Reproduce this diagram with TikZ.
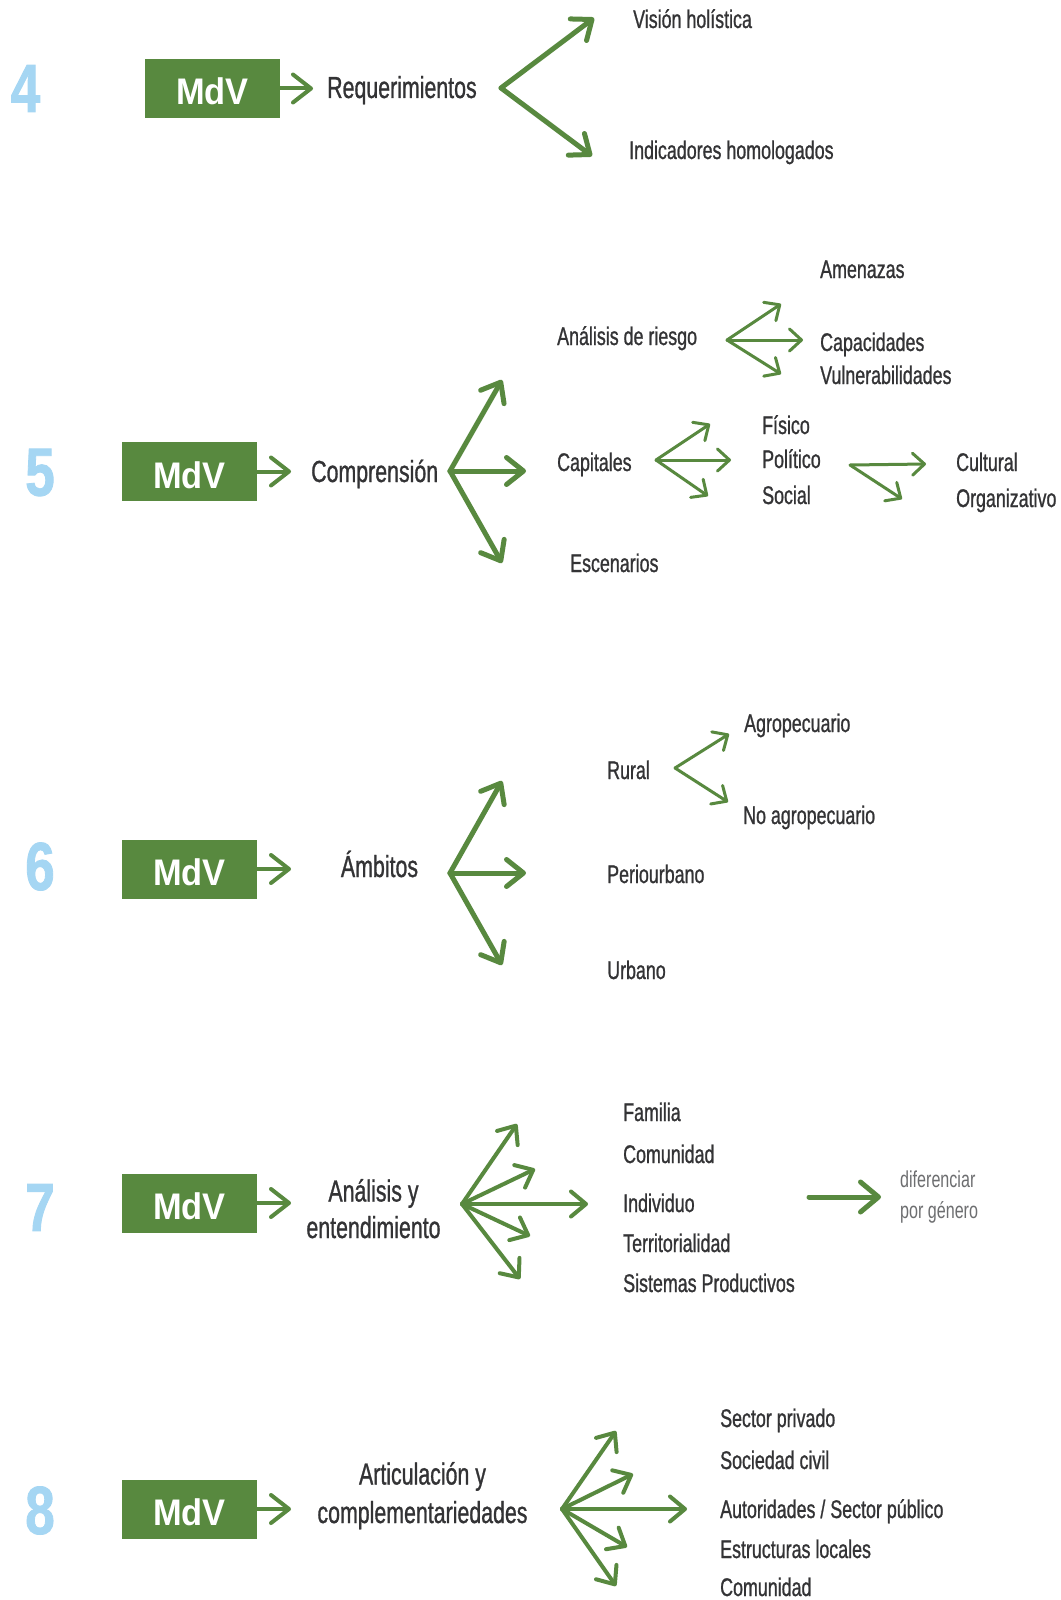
\documentclass[tikz,border=0pt]{standalone}
\usepackage{fontspec}
\setmainfont{Liberation Sans}
\newfontfamily\condf[FakeStretch=0.7,FakeBold=0.9]{Liberation Sans}
\newfontfamily\notef[FakeStretch=0.7]{Liberation Sans}
\newfontfamily\mdvf[FakeStretch=0.93]{Liberation Sans}
\newfontfamily\numf[FakeStretch=0.78,FakeBold=1.2]{Liberation Sans}
\usetikzlibrary{arrows.meta}
\definecolor{mdvgreen}{HTML}{58893F}
\definecolor{numblue}{HTML}{A5D6F3}
\definecolor{txt}{HTML}{333335}
\definecolor{lighttxt}{HTML}{6D6E70}
\begin{document}
\begin{tikzpicture}[x=1pt,y=-1pt,
  box/.style={fill=mdvgreen, minimum width=135pt, minimum height=59pt, inner sep=0pt, text=white,
    font=\mdvf\bfseries\fontsize{37}{37}\selectfont, text height=33pt, text depth=0pt},
  num/.style={text=numblue, font=\numf\bfseries\fontsize{68}{68}\selectfont, inner sep=0pt},
  big/.style={text=txt, font=\condf\fontsize{30.5}{37}\selectfont, inner sep=0pt},
  lst/.style={text=txt, font=\condf\fontsize{25.5}{30}\selectfont, inner sep=0pt, anchor=base west},
  note/.style={text=lighttxt, font=\notef\fontsize{23}{31}\selectfont, inner sep=0pt, align=left},
  mdvarrow/.style={draw=mdvgreen, line width=4pt, line cap=round, -{Straight Barb[length=18pt,width=28pt,round]}},
  fatfork/.style={draw=mdvgreen, line width=5pt, line cap=round, -{Straight Barb[length=17pt,width=27pt,round]}},
  midfork/.style={draw=mdvgreen, line width=4pt, line cap=round, -{Straight Barb[length=15pt,width=25pt,round]}},
  thinfork/.style={draw=mdvgreen, line width=3pt, line cap=round, -{Straight Barb[length=12pt,width=22pt,round]}},
]
\fill[white] (0,0) rectangle (1060,1600);
\useasboundingbox (0,0) rectangle (1060,1600);

% ---------- 4 ----------
\node[num] (n4) at (25.5,88.5) {4};
\node[box] (b4) at (212.5,88.5) {MdV};
\coordinate (a4) at (313,88.5);
\draw[mdvarrow] (b4.east) -- (a4);
\node[big, anchor=base west] (t4) at (327,98) {Requerimientos};
\coordinate (v4) at (501,88);
\coordinate (v4a) at (594,18);
\coordinate (v4b) at (592,156);
\draw[fatfork] (v4) -- (v4a);
\draw[fatfork] (v4) -- (v4b);
\node[lst] (l4a) at (633,28) {Visión holística};
\node[lst] (l4b) at (629,159) {Indicadores homologados};

% ---------- 5 ----------
\node[num] (n5) at (40,472.5) {5};
\node[box] (b5) at (189.5,471.5) {MdV};
\coordinate (a5) at (291,471.5);
\draw[mdvarrow] (b5.east) -- (a5);
\node[big, anchor=base west] (t5) at (311,482) {Comprensión};
\coordinate (v5) at (450,471);
\coordinate (v5a) at (502,380);
\coordinate (v5b) at (526,471);
\coordinate (v5c) at (502,563);
\draw[fatfork] (v5) -- (v5a);
\draw[fatfork] (v5) -- (v5b);
\draw[fatfork] (v5) -- (v5c);
\node[lst] (l5a) at (557,345) {Análisis de riesgo};
\node[lst] (l5b) at (557,471) {Capitales};
\node[lst] (l5c) at (570,572) {Escenarios};
% riesgo fork
\coordinate (r5) at (727,340);
\coordinate (r5a) at (781,304);
\coordinate (r5b) at (803,340);
\coordinate (r5c) at (781,374);
\draw[thinfork] (r5) -- (r5a);
\draw[thinfork] (r5) -- (r5b);
\draw[thinfork] (r5) -- (r5c);
\node[lst] (m5a) at (820,278) {Amenazas};
\node[lst] (m5b) at (820,351) {Capacidades};
\node[lst] (m5c) at (820,384) {Vulnerabilidades};
% capitales fork
\coordinate (c5) at (656,460);
\coordinate (c5a) at (710,424);
\coordinate (c5b) at (731,460);
\coordinate (c5c) at (708,496);
\draw[thinfork] (c5) -- (c5a);
\draw[thinfork] (c5) -- (c5b);
\draw[thinfork] (c5) -- (c5c);
\node[lst] (k5a) at (762,434) {Físico};
\node[lst] (k5b) at (762,468) {Político};
\node[lst] (k5c) at (762,504) {Social};
\coordinate (e5) at (850,465);
\coordinate (e5a) at (926,464);
\coordinate (e5b) at (902,499);
\draw[thinfork] (e5) -- (e5a);
\draw[thinfork] (e5) -- (e5b);
\node[lst] (o5a) at (956,471) {Cultural};
\node[lst] (o5b) at (956,507) {Organizativo};

% ---------- 6 ----------
\node[num] (n6) at (40,866.5) {6};
\node[box] (b6) at (189.5,869) {MdV};
\coordinate (a6) at (291,869);
\draw[mdvarrow] (b6.east) -- (a6);
\node[big, anchor=base] (t6) at (379.5,877) {Ámbitos};
\coordinate (v6) at (450,873);
\coordinate (v6a) at (502,781);
\coordinate (v6b) at (526,873);
\coordinate (v6c) at (502,965);
\draw[fatfork] (v6) -- (v6a);
\draw[fatfork] (v6) -- (v6b);
\draw[fatfork] (v6) -- (v6c);
\node[lst] (l6a) at (607,779) {Rural};
\node[lst] (l6b) at (607,883) {Periourbano};
\node[lst] (l6c) at (607,979) {Urbano};
\coordinate (r6) at (675,768);
\coordinate (r6a) at (729,734);
\coordinate (r6b) at (728,802);
\draw[thinfork] (r6) -- (r6a);
\draw[thinfork] (r6) -- (r6b);
\node[lst] (m6a) at (744,732) {Agropecuario};
\node[lst] (m6b) at (743,824) {No agropecuario};

% ---------- 7 ----------
\node[num] (n7) at (40,1207.5) {7};
\node[box] (b7) at (189.5,1203) {MdV};
\coordinate (a7) at (291,1203);
\draw[mdvarrow] (b7.east) -- (a7);
\node[big, anchor=base, align=center] (t7) at (373.5,1238) {Análisis y\\[-0.5pt]entendimiento};
\coordinate (v7) at (462,1204);
\coordinate (v7a) at (517,1124);
\coordinate (v7b) at (535,1169);
\coordinate (v7c) at (588,1204);
\coordinate (v7d) at (530,1236);
\coordinate (v7e) at (520,1279);
\draw[midfork] (v7) -- (v7a);
\draw[midfork] (v7) -- (v7b);
\draw[midfork] (v7) -- (v7c);
\draw[midfork] (v7) -- (v7d);
\draw[midfork] (v7) -- (v7e);
\node[lst] (l7a) at (623,1121) {Familia};
\node[lst] (l7b) at (623,1163) {Comunidad};
\node[lst] (l7c) at (623,1212) {Individuo};
\node[lst] (l7d) at (623,1252) {Territorialidad};
\node[lst] (l7e) at (623,1292) {Sistemas Productivos};
\coordinate (g7s) at (809,1197);
\coordinate (g7e) at (881,1197);
\draw[fatfork, -{Straight Barb[length=18pt,width=30pt,round]}] (g7s) -- (g7e);
\node[note, anchor=base west] (d7) at (900,1218) {diferenciar\\por género};

% ---------- 8 ----------
\node[num] (n8) at (40,1510.5) {8};
\node[box] (b8) at (189.5,1509) {MdV};
\coordinate (a8) at (291,1509);
\draw[mdvarrow] (b8.east) -- (a8);
\node[big, anchor=base, align=center] (t8) at (422.5,1523) {Articulación y\\[1.5pt]complementariedades};
\coordinate (v8) at (562,1509);
\coordinate (v8a) at (616,1431);
\coordinate (v8b) at (633,1474);
\coordinate (v8c) at (687,1509);
\coordinate (v8d) at (627,1547);
\coordinate (v8e) at (616,1586);
\draw[midfork] (v8) -- (v8a);
\draw[midfork] (v8) -- (v8b);
\draw[midfork] (v8) -- (v8c);
\draw[midfork] (v8) -- (v8d);
\draw[midfork] (v8) -- (v8e);
\node[lst] (l8a) at (720,1427) {Sector privado};
\node[lst] (l8b) at (720,1469) {Sociedad civil};
\node[lst] (l8c) at (720,1518) {Autoridades / Sector público};
\node[lst] (l8d) at (720,1558) {Estructuras locales};
\node[lst] (l8e) at (720,1596) {Comunidad};
\end{tikzpicture}
\end{document}
